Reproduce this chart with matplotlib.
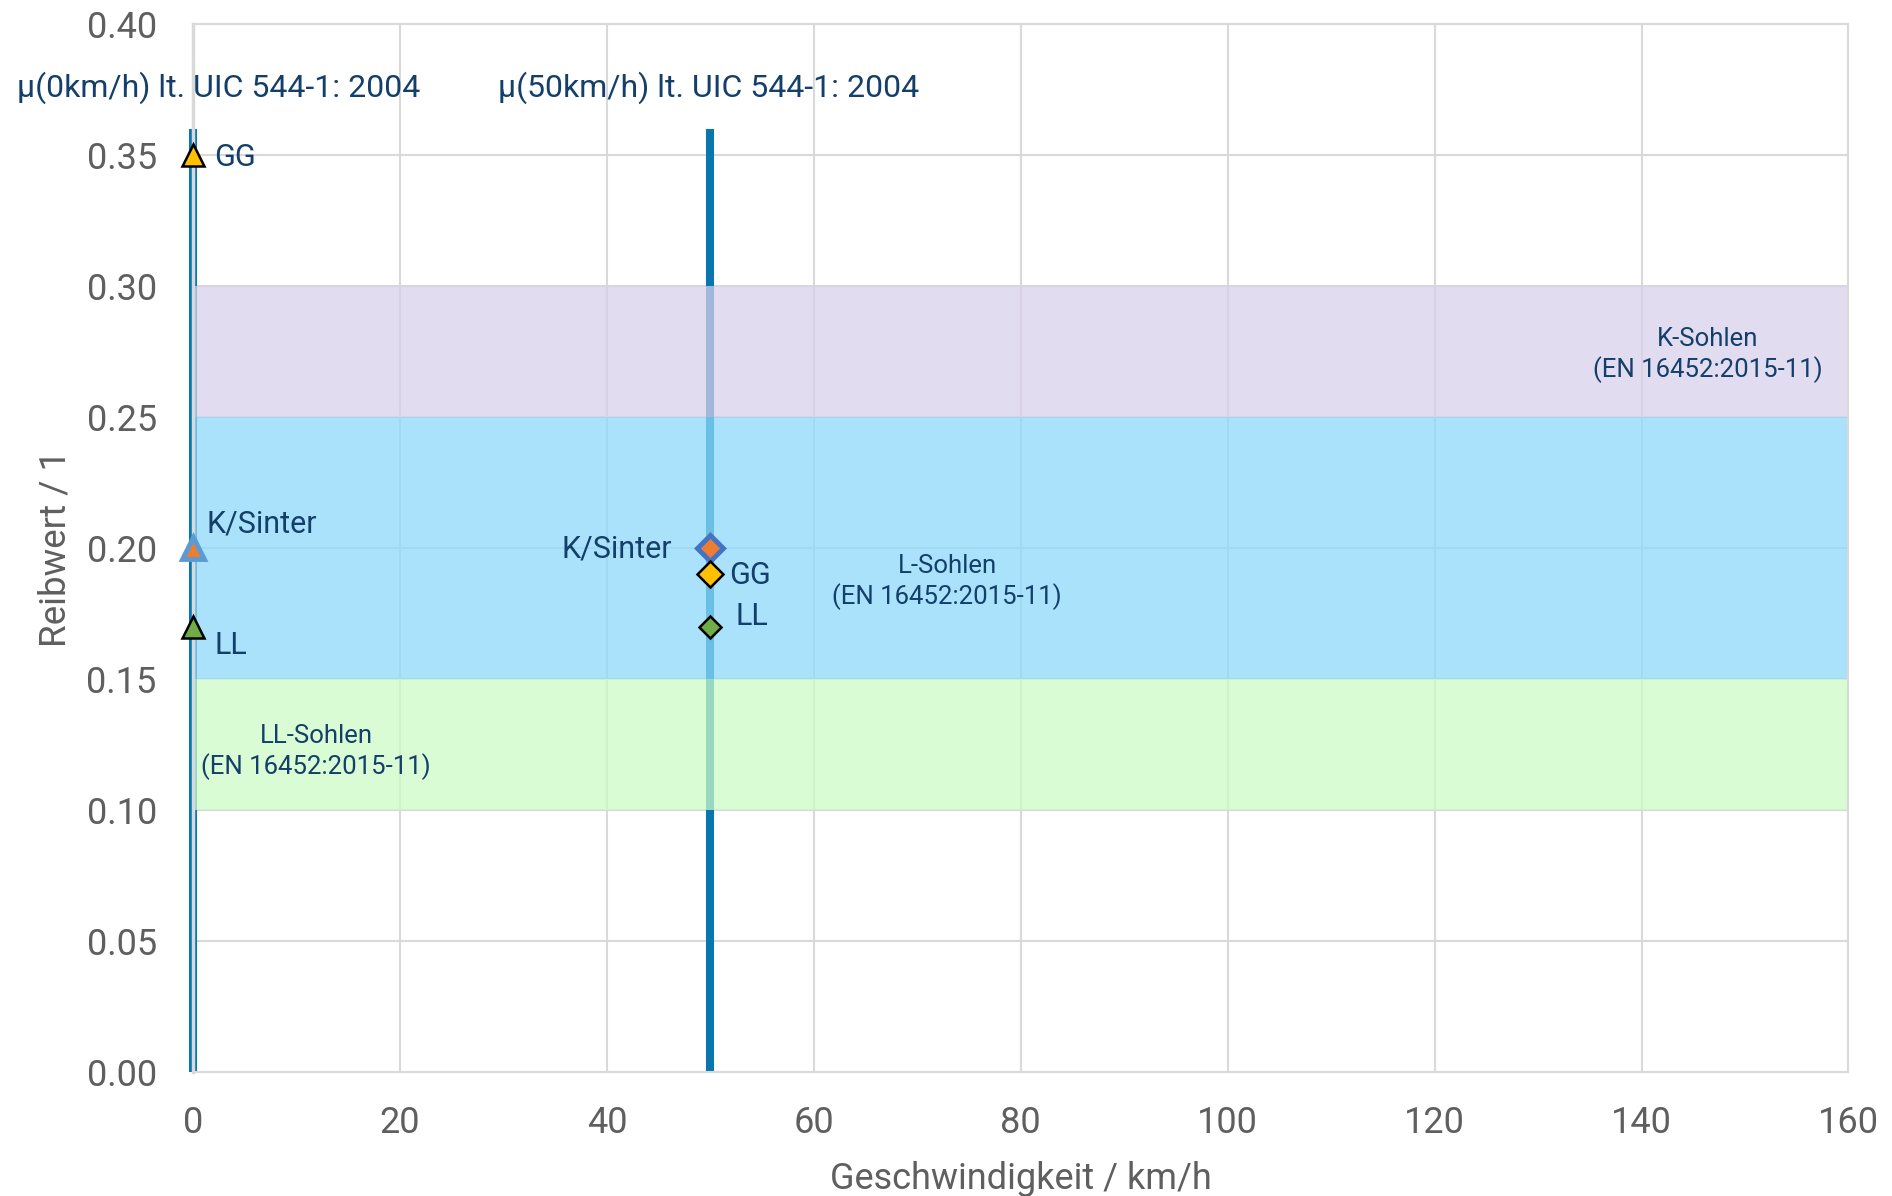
# -*- coding: utf-8 -*-
import matplotlib
matplotlib.use('Agg')
import matplotlib.pyplot as plt

plt.rcParams['font.family'] = ['Roboto', 'DejaVu Sans']

# data
uic_speeds = [0, 50]
uic_top = 0.36
uic_labels = ['µ(0km/h) lt. UIC 544-1: 2004', 'µ(50km/h) lt. UIC 544-1: 2004']

mu0_names = ['GG', 'K/Sinter', 'LL']
mu0_values = [0.35, 0.20, 0.17]
mu50_names = ['K/Sinter', 'GG', 'LL']
mu50_values = [0.20, 0.19, 0.17]

band_names = ['K-Sohlen', 'L-Sohlen', 'LL-Sohlen']
band_low = [0.25, 0.15, 0.10]
band_high = [0.30, 0.25, 0.15]
band_colors = ['#d9d0eb', '#8cd9fa', '#ccfbc6']
band_text_pos = [(146.4, 0.2735), (72.9, 0.1871), (11.9, 0.1221)]
norm_text = '(EN 16452:2015-11)'

x_ticks = [0, 20, 40, 60, 80, 100, 120, 140, 160]
y_ticks = [0.0, 0.05, 0.10, 0.15, 0.20, 0.25, 0.30, 0.35, 0.40]

navy = '#143f6b'
gray = '#5f5f5f'
grid = '#d9d9d9'
lineblue = '#0a76b0'

fig = plt.figure(figsize=(18.92, 11.96), dpi=100)
ax = fig.add_axes([0.102, 0.1037, 0.875, 0.8763])

ax.set_xlim(0, 160)
ax.set_ylim(0, 0.40)

# UIC lines (under the bands)
for v in uic_speeds:
    ax.plot([v, v], [0, uic_top], color=lineblue, lw=5.8, solid_capstyle='butt',
            zorder=1, clip_on=False)

# bands
for lo, hi, c in zip(band_low, band_high, band_colors):
    ax.fill_between([0, 160], lo, hi, color=c, alpha=0.74, lw=0, zorder=1.5)

for name, (bx, by) in zip(band_names, band_text_pos):
    ax.text(bx, by, name + '\n' + norm_text, ha='center', va='center',
            fontsize=18.5, color=navy, linespacing=1.25, zorder=4)

# markers at 0 km/h
tri_face = {'GG': '#ffc000', 'K/Sinter': '#ed7d31', 'LL': '#70ad47'}
tri_edge = {'GG': 'black', 'K/Sinter': '#5b9bd5', 'LL': 'black'}
tri_ew = {'GG': 1.8, 'K/Sinter': 3.5, 'LL': 1.8}
for n, val in zip(mu0_names, mu0_values):
    ax.plot(0, val, marker='^', ms=16, mfc=tri_face[n], mec=tri_edge[n],
            mew=tri_ew[n], ls='none', zorder=5, clip_on=False)

ax.text(2.0, 0.349, 'GG', ha='left', va='center', fontsize=22, color=navy, zorder=5)
ax.text(1.3, 0.2092, 'K/Sinter', ha='left', va='center', fontsize=22, color=navy, zorder=5)
ax.text(2.1, 0.1627, 'LL', ha='left', va='center', fontsize=22, color=navy, zorder=5)

# markers at 50 km/h
dia_edge = {'GG': 'black', 'K/Sinter': '#4472c4', 'LL': 'black'}
dia_ew = {'GG': 1.8, 'K/Sinter': 3.5, 'LL': 1.8}
dia_ms = {'GG': 13, 'K/Sinter': 13, 'LL': 11.5}
for n, val in zip(mu50_names, mu50_values):
    ax.plot(50, val, marker='D', ms=dia_ms[n], mfc=tri_face[n], mec=dia_edge[n],
            mew=dia_ew[n], ls='none', zorder=5)

ax.text(46.3, 0.1995, 'K/Sinter', ha='right', va='center', fontsize=22, color=navy, zorder=5)
ax.text(51.8, 0.1894, 'GG', ha='left', va='center', fontsize=22, color=navy, zorder=5)
ax.text(52.4, 0.1737, 'LL', ha='left', va='center', fontsize=22, color=navy, zorder=5)

# UIC annotations
ax.text(-17.0, 0.3756, uic_labels[0], ha='left', va='center', fontsize=23,
        color=navy, clip_on=False)
ax.text(29.5, 0.3756, uic_labels[1], ha='left', va='center', fontsize=23,
        color=navy, clip_on=False)

# axes styling
ax.set_xticks(x_ticks)
ax.set_yticks(y_ticks)
ax.set_yticklabels(['%.2f' % t for t in y_ticks])
ax.tick_params(length=0, labelsize=26, labelcolor=gray, pad=24)
ax.tick_params(axis='y', pad=26)
ax.grid(True, color=grid, lw=1.5, zorder=0.5)
ax.set_axisbelow(True)
for s in ax.spines.values():
    s.set_color(grid)
    s.set_linewidth(1.5)
ax.spines['left'].set_zorder(2)
ax.spines['left'].set_linewidth(2.5)

ax.set_xlabel('Geschwindigkeit / km/h', fontsize=26, color=gray, labelpad=14)
ax.set_ylabel('Reibwert / 1', fontsize=26.5, color=gray, labelpad=9)

plt.savefig('out.png', dpi=100)
plt.close(fig)
